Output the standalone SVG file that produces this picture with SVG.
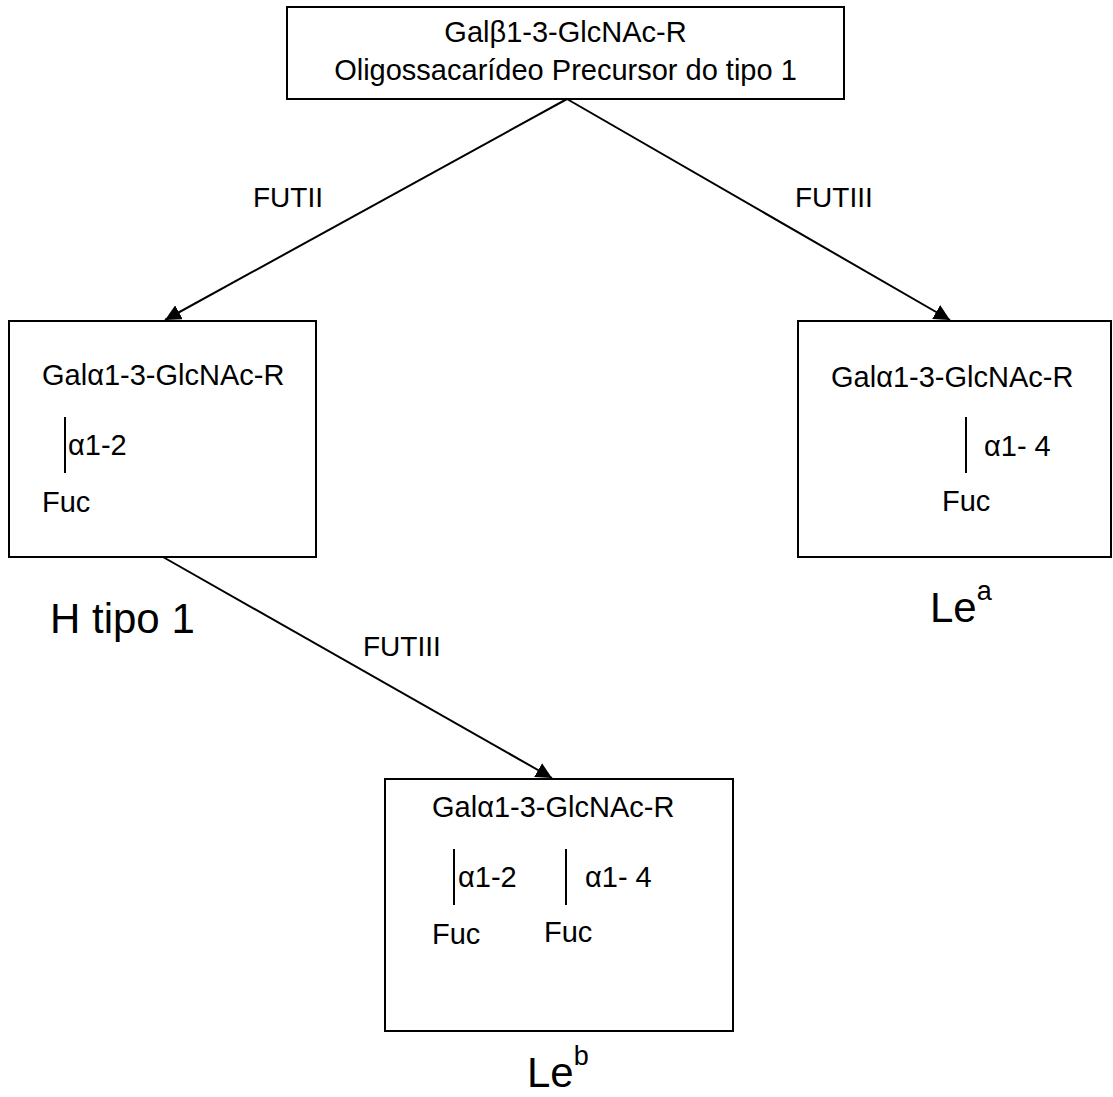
<svg xmlns="http://www.w3.org/2000/svg" width="1113" height="1097" viewBox="0 0 1113 1097">
<defs>
<style>
text{font-family:"Liberation Sans",Arial,sans-serif;fill:#000}
.t{font-size:29px}
.big{font-size:42px}
.sup{font-size:27px}
.lab{font-size:28px}
.box{fill:#fff;stroke:#000;stroke-width:2}
line{stroke:#000;stroke-width:2}
</style>
<marker id="ah" viewBox="0 0 10 10" refX="10" refY="5" markerWidth="8" markerHeight="8" markerUnits="strokeWidth" orient="auto"><path d="M0,0 L10,5 L0,10 Z" fill="#000"/></marker>
</defs>
<rect x="0" y="0" width="1113" height="1097" fill="#fff"/>
<g id="connectors">
<line x1="567" y1="99" x2="165" y2="320" marker-end="url(#ah)"/>
<line x1="567" y1="99" x2="950" y2="320" marker-end="url(#ah)"/>
<line x1="163" y1="557" x2="552" y2="778" marker-end="url(#ah)"/>
<text class="lab" x="253" y="207">FUTII</text>
<text class="lab" x="795" y="207">FUTIII</text>
<text class="lab" x="363" y="656">FUTIII</text>
</g>
<g id="precursor">
<rect class="box" x="287" y="7" width="557" height="92"/>
<text class="t" x="565.5" y="42" text-anchor="middle">Galβ1-3-GlcNAc-R</text>
<text class="t" x="565.5" y="80" text-anchor="middle">Oligossacarídeo Precursor do tipo 1</text>
</g>
<g id="htipo1">
<rect class="box" x="9" y="321" width="307" height="236"/>
<text class="t" x="42" y="385">Galα1-3-GlcNAc-R</text>
<line x1="65" y1="417" x2="65" y2="473"/>
<text class="t" x="68" y="455">α1-2</text>
<text class="t" x="42" y="512">Fuc</text>
<text class="big" x="50" y="633">H tipo 1</text>
</g>
<g id="lea">
<rect class="box" x="798" y="321" width="313" height="236"/>
<text class="t" x="831" y="387">Galα1-3-GlcNAc-R</text>
<line x1="966" y1="417" x2="966" y2="473"/>
<text class="t" x="984" y="456">α1- 4</text>
<text class="t" x="942" y="511">Fuc</text>
<text class="big" x="930" y="622">Le<tspan class="sup" dy="-22">a</tspan></text>
</g>
<g id="leb">
<rect class="box" x="385" y="779" width="348" height="252"/>
<text class="t" x="432" y="817">Galα1-3-GlcNAc-R</text>
<line x1="454" y1="849" x2="454" y2="905"/>
<text class="t" x="458" y="887">α1-2</text>
<line x1="566" y1="849" x2="566" y2="905"/>
<text class="t" x="585" y="887">α1- 4</text>
<text class="t" x="432" y="944">Fuc</text>
<text class="t" x="544" y="942">Fuc</text>
<text class="big" x="527" y="1087">Le<tspan class="sup" dy="-22">b</tspan></text>
</g>
</svg>
